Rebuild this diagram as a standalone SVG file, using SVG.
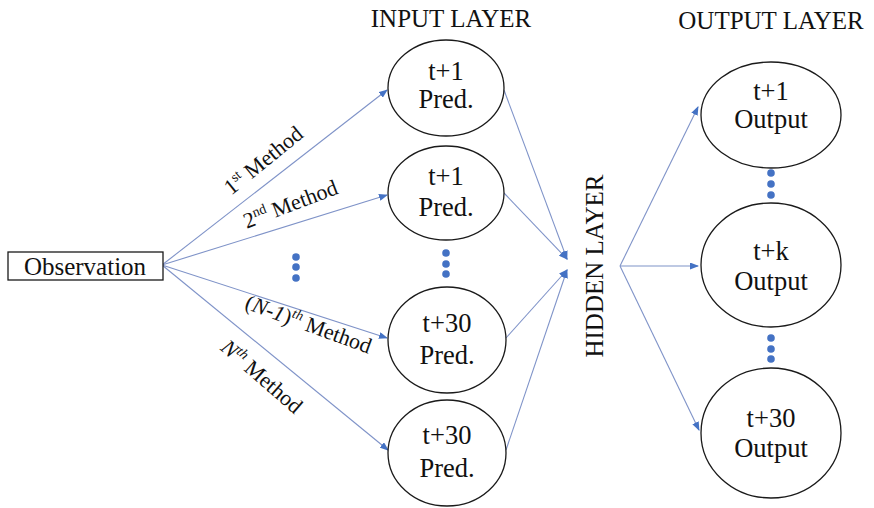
<svg xmlns="http://www.w3.org/2000/svg" width="874" height="508" viewBox="0 0 874 508" font-family="'Liberation Serif','Times New Roman',serif">
<defs>
<style>
text,tspan{font-family:"Liberation Serif","Times New Roman",serif;fill:#111}
.n{fill:#fff;stroke:#1a1a1a;stroke-width:1.3}
.t{font-size:25px;text-anchor:middle}
.v{font-size:26.5px;text-anchor:middle}
.lbl{font-size:22px;text-anchor:middle}
.c{stroke:#7f93c8;stroke-width:1.1;fill:none;marker-end:url(#ah)}
.d{fill:#4472c4}
</style>
<marker id="ah" markerUnits="userSpaceOnUse" markerWidth="9" markerHeight="7" refX="8" refY="3.5" orient="auto">
<path d="M0,0 L9,3.5 L0,7 z" fill="#4472c4"/>
</marker>
</defs>
<rect width="874" height="508" fill="#fff"/>

<g id="titles">
<text class="t" x="451" y="27">INPUT LAYER</text>
<text class="t" x="771" y="29">OUTPUT LAYER</text>
<text class="t" transform="translate(603,266) rotate(-90)" font-size="26">HIDDEN LAYER</text>
</g>

<g id="connectors">
<line class="c" x1="162" y1="265" x2="387" y2="90"/>
<line class="c" x1="162" y1="265" x2="387" y2="195"/>
<line class="c" x1="162" y1="265" x2="387" y2="338"/>
<line class="c" x1="162" y1="265" x2="388" y2="450"/>
<line class="c" x1="504" y1="90" x2="567" y2="259"/>
<line class="c" x1="504" y1="193" x2="567" y2="259"/>
<line class="c" x1="506" y1="338" x2="567" y2="270"/>
<line class="c" x1="506" y1="450" x2="567" y2="270"/>
<line class="c" x1="620" y1="266" x2="698" y2="107"/>
<line class="c" x1="620" y1="266" x2="698" y2="266"/>
<line class="c" x1="620" y1="266" x2="699" y2="430"/>
</g>

<g id="method-labels">
<text class="lbl" transform="translate(268,166) rotate(-39)">1<tspan dy="-8" font-size="14">st</tspan><tspan dy="8"> Method</tspan></text>
<text class="lbl" transform="translate(293,211) rotate(-21)">2<tspan dy="-8" font-size="14">nd</tspan><tspan dy="8"> Method</tspan></text>
<text class="lbl" transform="translate(306,331) rotate(20)">(<tspan font-style="italic">N-1</tspan>)<tspan dy="-8" font-size="14" font-style="italic">th</tspan><tspan dy="8"> Method</tspan></text>
<text class="lbl" transform="translate(257,382) rotate(41)"><tspan font-style="italic">N</tspan><tspan dy="-8" font-size="14" font-style="italic">th</tspan><tspan dy="8"> Method</tspan></text>
</g>

<g id="observation">
<rect class="n" x="8" y="252" width="155" height="28"/>
<text class="t" x="85" y="275" font-size="26">Observation</text>
</g>

<g id="in1">
<ellipse class="n" cx="446" cy="88" rx="58" ry="48"/>
<text class="v" x="446" y="80">t+1</text>
<text class="v" x="446" y="108">Pred.</text>
</g>
<g id="in2">
<ellipse class="n" cx="446" cy="193" rx="58" ry="47"/>
<text class="v" x="446" y="185">t+1</text>
<text class="v" x="446" y="216">Pred.</text>
</g>
<g id="in3">
<ellipse class="n" cx="447" cy="340" rx="59" ry="53"/>
<text class="v" x="447" y="332">t+30</text>
<text class="v" x="447" y="364">Pred.</text>
</g>
<g id="in4">
<ellipse class="n" cx="447" cy="453" rx="59" ry="53"/>
<text class="v" x="447" y="444">t+30</text>
<text class="v" x="447" y="477">Pred.</text>
</g>

<g id="out1">
<ellipse class="n" cx="771" cy="115" rx="70" ry="53"/>
<text class="v" x="771" y="100">t+1</text>
<text class="v" x="771" y="128">Output</text>
</g>
<g id="out2">
<ellipse class="n" cx="771" cy="265" rx="70" ry="62"/>
<text class="v" x="771" y="260">t+k</text>
<text class="v" x="771" y="290">Output</text>
</g>
<g id="out3">
<ellipse class="n" cx="771" cy="433" rx="70" ry="65"/>
<text class="v" x="771" y="427">t+30</text>
<text class="v" x="771" y="457">Output</text>
</g>

<g id="ellipsis-dots">
<circle class="d" cx="296" cy="257" r="3.8"/>
<circle class="d" cx="296" cy="267" r="3.8"/>
<circle class="d" cx="296" cy="278" r="3.8"/>
<circle class="d" cx="446" cy="253" r="3.8"/>
<circle class="d" cx="446" cy="264" r="3.8"/>
<circle class="d" cx="446" cy="274" r="3.8"/>
<circle class="d" cx="771" cy="173" r="3.8"/>
<circle class="d" cx="771" cy="184" r="3.8"/>
<circle class="d" cx="771" cy="195" r="3.8"/>
<circle class="d" cx="771" cy="338" r="3.8"/>
<circle class="d" cx="771" cy="349" r="3.8"/>
<circle class="d" cx="771" cy="359" r="3.8"/>
</g>
</svg>
